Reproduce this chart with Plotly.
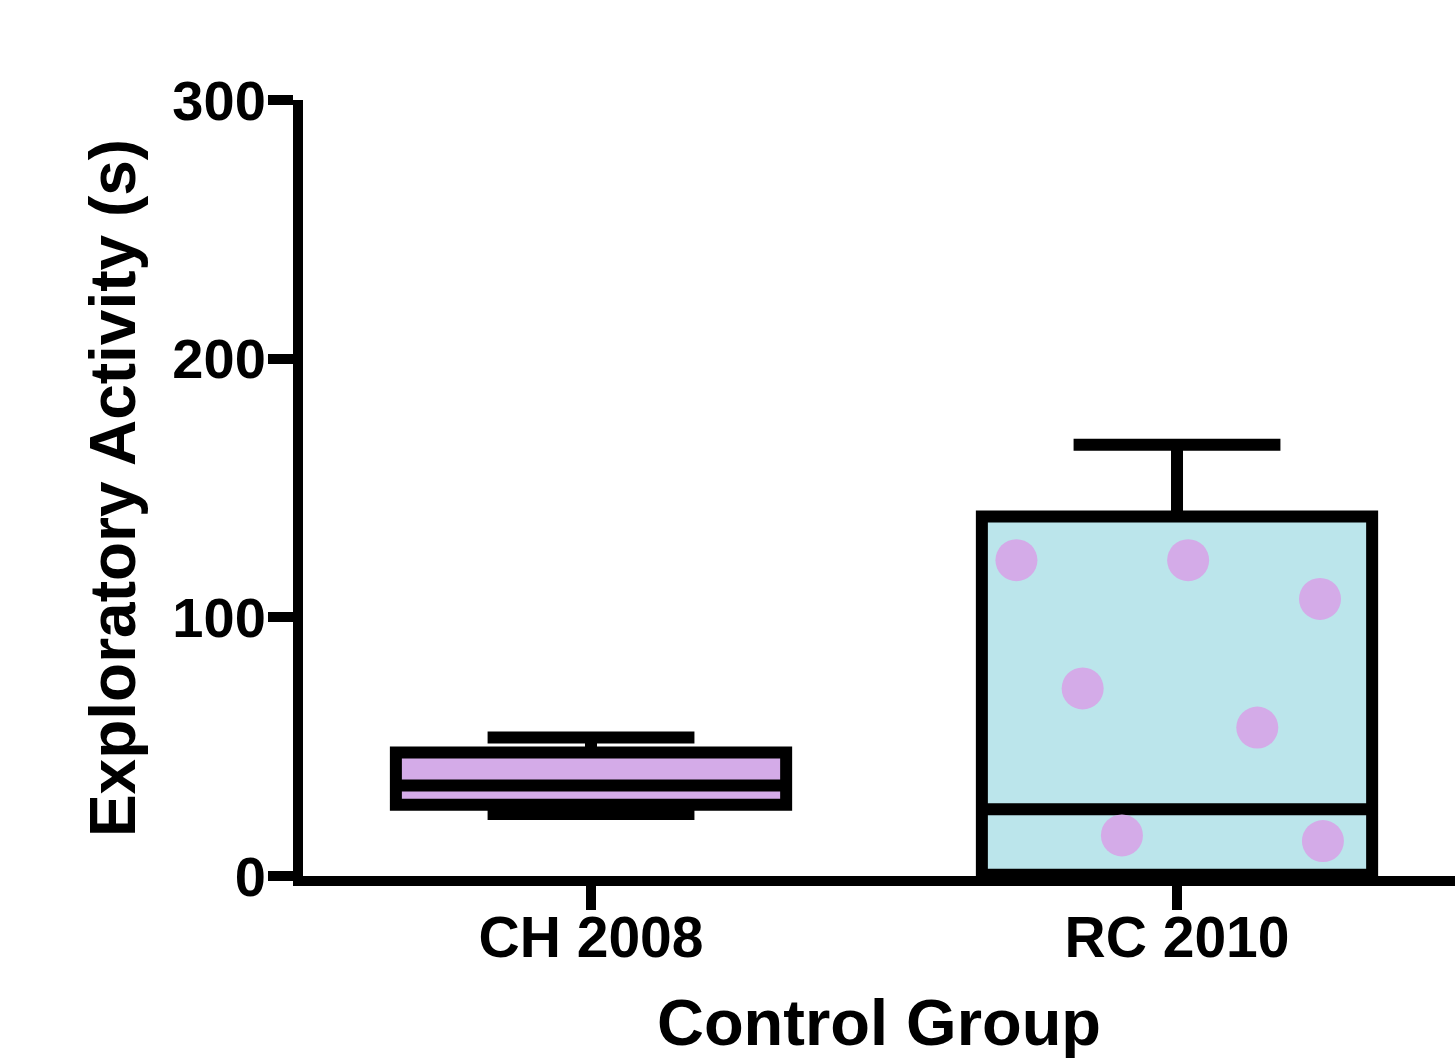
import plotly.graph_objects as go

# ---- data ----
categories = ["CH 2008", "RC 2010"]
cat_pos = [0, 1]
lower_fence = [24.0, 0.5]
q1 = [27.5, 0.5]
median = [35.0, 25.8]
q3 = [47.7, 139.0]
upper_fence = [53.5, 166.7]

rc_point_offset = [-0.274, 0.019, 0.244, -0.161, 0.137, -0.094, 0.249]
rc_point_values = [122.1, 122.1, 107.1, 72.5, 57.4, 15.7, 13.5]

y_ticks = [0, 100, 200, 300]

box_fill = ["#D4ABE8", "#BBE5EB"]
point_color = "#D4ABE8"

FONT = "Liberation Sans, Arial, sans-serif"

fig = go.Figure()
for i in range(len(categories)):
    fig.add_trace(go.Box(
        x=[cat_pos[i]],
        q1=[q1[i]], median=[median[i]], q3=[q3[i]],
        lowerfence=[lower_fence[i]], upperfence=[upper_fence[i]],
        width=0.666,
        whiskerwidth=0.53,
        fillcolor=box_fill[i],
        line=dict(color="black", width=12),
        boxpoints=False,
        showlegend=False,
        hoverinfo="skip",
    ))

fig.add_trace(go.Scatter(
    x=[cat_pos[1] + o for o in rc_point_offset],
    y=rc_point_values,
    mode="markers",
    marker=dict(size=42, color=point_color, line=dict(width=0)),
    showlegend=False,
    hoverinfo="skip",
))

fig.update_layout(
    width=1455, height=1059,
    margin=dict(l=303, r=0, t=100, b=183),
    paper_bgcolor="white", plot_bgcolor="white",
    font=dict(family=FONT, color="black"),
    boxmode="overlay",
    xaxis=dict(
        range=[-0.4915, 1.4744],
        automargin=False,
        tickmode="array", tickvals=cat_pos, ticktext=categories,
        showline=True, linecolor="black", linewidth=10,
        ticks="outside", ticklen=24, tickwidth=10, tickcolor="black",
        ticklabelstandoff=-21,
        showgrid=False, zeroline=False,
        tickfont=dict(family=FONT, size=57, weight="bold", color="black"),
        title=dict(text="Control Group", standoff=50,
                   font=dict(family=FONT, size=65, weight="bold", color="black")),
    ),
    yaxis=dict(
        range=[0, 300],
        automargin=False,
        tickmode="array", tickvals=y_ticks,
        showline=True, linecolor="black", linewidth=10,
        ticks="outside", ticklen=25, tickwidth=10, tickcolor="black",
        ticklabelstandoff=-9,
        showgrid=False, zeroline=False,
        tickfont=dict(family=FONT, size=56, weight="bold", color="black"),
        title=dict(text="Exploratory Activity (s)", standoff=20,
                   font=dict(family=FONT, size=64, weight="bold", color="black")),
    ),
)

fig.write_html("out.html")
